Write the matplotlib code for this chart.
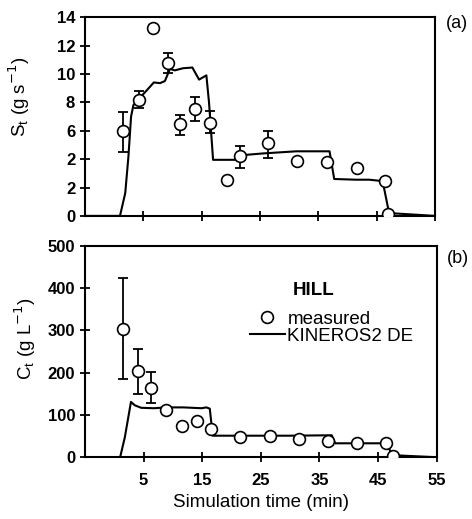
import matplotlib
matplotlib.use("Agg")
import matplotlib.pyplot as plt

plt.rcParams["font.family"] = ["Liberation Sans", "DejaVu Sans"]
plt.rcParams["font.size"] = 13

# (a) sediment discharge S_t, measured (HILL) with error bars
ta = [1.5, 4.2, 6.6, 9.2, 11.35, 13.9, 16.45, 19.25, 21.5, 26.3, 31.3, 36.4, 41.6, 46.4, 47.0]
sa = [6.0, 8.15, 13.2, 10.75, 6.45, 7.55, 6.55, 2.5, 4.2, 5.15, 3.9, 3.8, 3.35, 2.45, 0.15]
sa_lo = [4.5, 7.6, None, 10.1, 5.7, 6.7, 5.85, None, 3.4, 4.1, None, None, None, None, None]
sa_hi = [7.3, 8.8, None, 11.5, 7.1, 8.4, 7.4, None, 4.9, 5.95, None, None, None, None, None]

# (a) KINEROS2 DE simulation
tm_a = [-5, 1.0, 1.9, 2.45, 2.9, 3.3, 4.15, 5.6, 6.8, 7.85, 8.7, 9.55, 10.4, 11.8, 13.4,
        14.55, 15.8, 16.25, 16.95, 20.9, 22.6, 25.5, 31.2, 36.9, 37.7, 41.4, 43.7, 46.0, 47.1, 55]
sm_a = [0, 0, 1.6, 4.2, 7.0, 7.8, 8.2, 8.85, 9.4, 9.35, 9.5, 10.35, 10.25, 10.4, 10.45,
        9.6, 9.9, 8.0, 3.95, 3.95, 4.3, 4.4, 4.55, 4.55, 2.6, 2.55, 2.55, 2.45, 0.2, 0]

# (b) sediment concentration C_t
tb = [1.55, 4.05, 6.3, 8.9, 11.55, 14.05, 16.55, 21.4, 26.5, 31.5, 36.55, 41.4, 46.4, 47.5]
cb = [303, 204, 164, 111, 75, 85, 67, 47, 50, 44, 38, 33, 33, 4]
cb_lo = [186, 150, 128, None, None, None, None, None, None, None, None, None, None, None]
cb_hi = [424, 256, 202, None, None, None, None, None, None, None, None, None, None, None]

tm_b = [-5, 1.0, 1.8, 2.85, 3.5, 4.6, 6.8, 8.9, 11.8, 14.9, 15.7, 16.3, 16.8, 18.5,
        30.0, 37.1, 37.7, 46.5, 47.4, 55]
cm_b = [0, 0, 47, 131, 123, 117, 116, 118, 118, 116, 118, 115, 51, 51,
        51, 52, 33, 33, 5, 0]

ya_ticks = [0, 2, 4, 6, 8, 10, 12, 14]
ya_labels = ["0", "2", "2", "6", "8", "10", "12", "14"]
yb_ticks = [0, 100, 200, 300, 400, 500]
x_ticks = [5, 15, 25, 35, 45, 55]


def errs(t, v, lo, hi):
    xs, ys, el, eh = [], [], [], []
    for ti, vi, l, h in zip(t, v, lo, hi):
        if l is None:
            continue
        xs.append(ti); ys.append(vi); el.append(vi - l); eh.append(h - vi)
    return xs, ys, [el, eh]


fig = plt.figure(figsize=(4.72, 5.19), dpi=100)
ax1 = fig.add_axes([0.180, 0.584, 0.742, 0.383])
ax2 = fig.add_axes([0.180, 0.119, 0.745, 0.407])

mk = dict(marker="o", ms=8.5, mfc="white", mec="black", mew=1.2, ls="none", zorder=4)
eb = dict(fmt="none", ecolor="black", elinewidth=1.3, capsize=3.5, capthick=1.3, zorder=2)

ex, ey, ee = errs(ta, sa, sa_lo, sa_hi)
ax1.errorbar(ex, ey, yerr=ee, **eb)
ax1.plot(tm_a, sm_a, color="black", lw=1.5, zorder=3)
ax1.plot(ta, sa, **mk)
ax1.set_xlim(-5, 55)
ax1.set_ylim(0, 14)
ax1.set_yticks(ya_ticks)
ax1.set_yticklabels(ya_labels)
ax1.set_xticks(x_ticks)
ax1.set_xticklabels([])
ax1.set_ylabel("S$_\\mathregular{t}$ (g s$^{-1}$)", fontsize=13.5)
ax1.yaxis.set_label_coords(-0.151, 0.60)
ax1.text(1.03, 0.97, "(a)", transform=ax1.transAxes, ha="left", va="center")

ex, ey, ee = errs(tb, cb, cb_lo, cb_hi)
ax2.errorbar(ex, ey, yerr=ee, **eb)
ax2.plot(tm_b, cm_b, color="black", lw=1.5, zorder=3, label="KINEROS2 DE")
ax2.plot(tb, cb, label="measured", **mk)
ax2.set_xlim(-5, 55)
ax2.set_ylim(0, 500)
ax2.set_yticks(yb_ticks)
ax2.set_xticks(x_ticks)
ax2.set_ylabel("C$_\\mathregular{t}$ (g L$^{-1}$)", fontsize=13.5)
ax2.yaxis.set_label_coords(-0.134, 0.56)
ax2.set_xlabel("Simulation time (min)", fontsize=13.5, labelpad=4)
ax2.text(1.03, 0.94, "(b)", transform=ax2.transAxes, ha="left", va="center")

h, l = ax2.get_legend_handles_labels()
ax2.legend(h[::-1], l[::-1], frameon=False, loc="upper left",
           bbox_to_anchor=(0.469, 0.695), handlelength=1.85, handletextpad=0.15,
           labelspacing=0.0, borderpad=0.0, borderaxespad=0.0, fontsize=13.5)
ax2.text(0.591, 0.79, "HILL", transform=ax2.transAxes, ha="left", va="center",
         fontsize=13.5, fontweight="bold")

for ax in (ax1, ax2):
    for s in ax.spines.values():
        s.set_linewidth(1.5)
    ax.tick_params(direction="inout", length=7, width=1.3)
    ax.tick_params(axis="x", pad=8)
    for t in ax.get_xticklabels() + ax.get_yticklabels():
        t.set_fontweight("bold")
        t.set_fontsize(12)

plt.savefig("out.png", dpi=100)
